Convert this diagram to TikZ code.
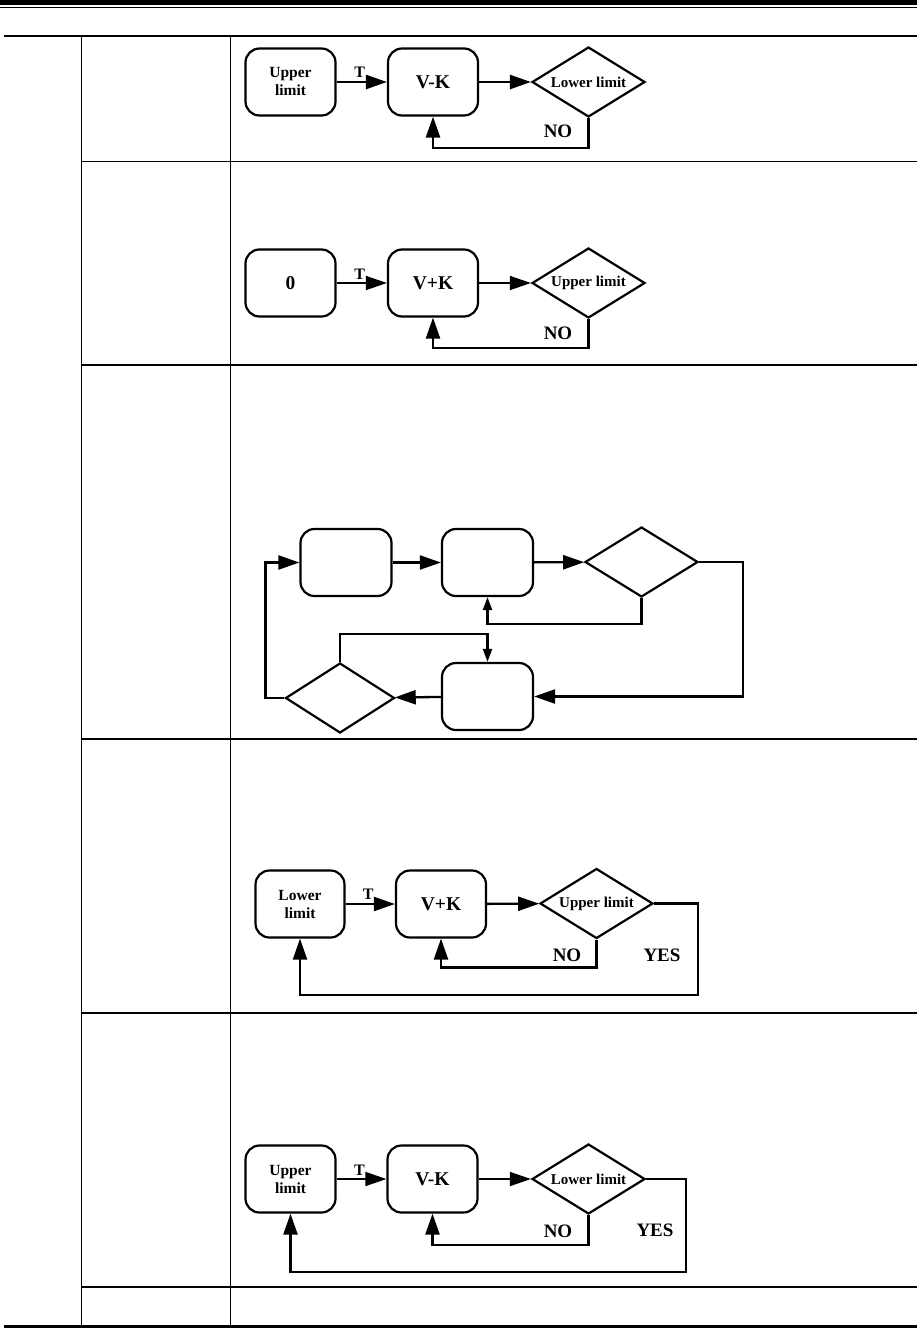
\documentclass[tikz,border=0pt]{standalone}
\usepackage{fontspec}
\setmainfont{Liberation Serif}
\usetikzlibrary{shapes.geometric,arrows.meta}
\begin{document}
\begin{tikzpicture}[x=1pt,y=-1pt,
  fbox/.style={draw,line width=2.2pt,rounded corners=14pt,minimum width=90pt,minimum height=67pt,inner sep=0pt,font=\bfseries\fontsize{19.5}{22}\selectfont,align=center},
  fsmall/.style={font=\bfseries\fontsize{15.5}{18}\selectfont},
  fdia/.style={draw,diamond,shape aspect=1.6,line width=2.2pt,minimum width=113pt,minimum height=70pt,inner sep=0pt,font=\bfseries\fontsize{15}{17}\selectfont},
  conn/.style={line width=2.3pt,-{Triangle[length=21pt,width=14pt]}},
  sconn/.style={line width=2.2pt,-{Triangle[length=13pt,width=9pt]}},
  lbl/.style={font=\bfseries\fontsize{19}{22}\selectfont,inner sep=0pt},
  tlbl/.style={font=\bfseries\fontsize{16}{18}\selectfont,inner sep=1pt},
  tabrule/.style={line width=1.2pt}
]
\useasboundingbox (0,0) rectangle (917,1329);
% header rules
\draw[line width=5.5pt] (0,2.75) -- (917,2.75);
\draw[line width=1.3pt] (0,7.6) -- (917,7.6);
% table
\draw[tabrule] (4,36) -- (917,36);
\draw[tabrule] (81.5,36) -- (81.5,1325);
\draw[tabrule] (230.5,36) -- (230.5,1325);
\foreach \yy in {161.5,365,739,1013,1287} \draw[tabrule] (81.5,\yy) -- (917,\yy);
\draw[line width=3pt] (4,1326.5) -- (917,1326.5);

% row 1
\node[fbox,fsmall] (u1) at (290.5,82) {Upper\\limit};
\node[fbox] (vk1) at (433,82) {V-K};
\node[fdia] (d1) at (588.5,82) {Lower limit};
\draw[conn,line width=2.6pt] (u1) -- node[tlbl,above=2pt,xshift=-2pt] (t1) {T} (vk1);
\draw[conn,line width=2.6pt] (vk1) -- (d1);
\draw[conn,line width=2.6pt] (d1.south) -- ++(0,30) -| (vk1.south);
\node[lbl] (no1) at (558,131) {NO};

% row 2
\node[fbox] (z2) at (290.5,283) {0};
\node[fbox] (vk2) at (433,283) {V+K};
\node[fdia] (d2) at (588.5,283) {Upper limit};
\draw[conn,line width=1.6pt] (z2) -- node[tlbl,above=2pt,xshift=-2pt] (t2) {T} (vk2);
\draw[conn,line width=1.6pt] (vk2) -- (d2);
\draw[conn] (d2.south) -- ++(0,29) -| (vk2.south);
\node[lbl] (no2) at (558,333) {NO};

% row 3
\node[fbox,minimum width=91pt] (a3) at (346,562.5) {};
\node[fbox,minimum width=91pt] (b3) at (487.5,562.5) {};
\node[fdia] (c3) at (641.5,562) {};
\node[fbox,minimum width=91pt] (d3) at (487.5,696.5) {};
\node[fdia,minimum width=109pt] (e3) at (340,698) {};
\draw[conn] (a3) -- (b3);
\draw[conn] (b3) -- (c3);
\draw[sconn] (c3.south) -- ++(0,26) -| (b3.south);
\draw[conn] (c3.east) -- ++(44,0) |- (d3.east);
\draw[conn] (d3) -- (e3);
\draw[sconn] (e3.north) -- ++(0,-28) -| (d3.north);
\draw[conn] (e3.west) -- ++(-19,0) |- (a3.west);

% row 4
\node[fbox,fsmall,minimum width=89pt] (l4) at (300,904) {Lower\\limit};
\node[fbox] (vp4) at (441,904) {V+K};
\node[fdia] (d4) at (596.5,903.5) {Upper limit};
\draw[conn] (l4) -- node[tlbl,above=2pt,xshift=-2pt] (t4) {T} (vp4);
\draw[conn] (vp4) -- (d4);
\draw[conn] (d4.south) -- ++(0,28) -| (vp4.south);
\draw[conn] (d4.east) -- ++(44,0) -- ++(0,91.5) -| (l4.south);
\node[lbl] (no4) at (567,955) {NO};
\node[lbl] (yes4) at (662,955) {YES};

% row 5
\node[fbox,fsmall] (u5) at (290.5,1179) {Upper\\limit};
\node[fbox] (vk5) at (432.5,1179) {V-K};
\node[fdia] (d5) at (588.5,1179) {Lower limit};
\draw[conn,line width=1.6pt] (u5) -- node[tlbl,above=2pt,xshift=-2pt] (t5) {T} (vk5);
\draw[conn,line width=1.6pt] (vk5) -- (d5);
\draw[conn] (d5.south) -- ++(0,30) -| (vk5.south);
\draw[conn] (d5.east) -- ++(40,0) -- ++(0,93) -| (u5.south);
\node[lbl] (no5) at (558,1231) {NO};
\node[lbl] (yes5) at (655,1230) {YES};
\end{tikzpicture}
\end{document}
